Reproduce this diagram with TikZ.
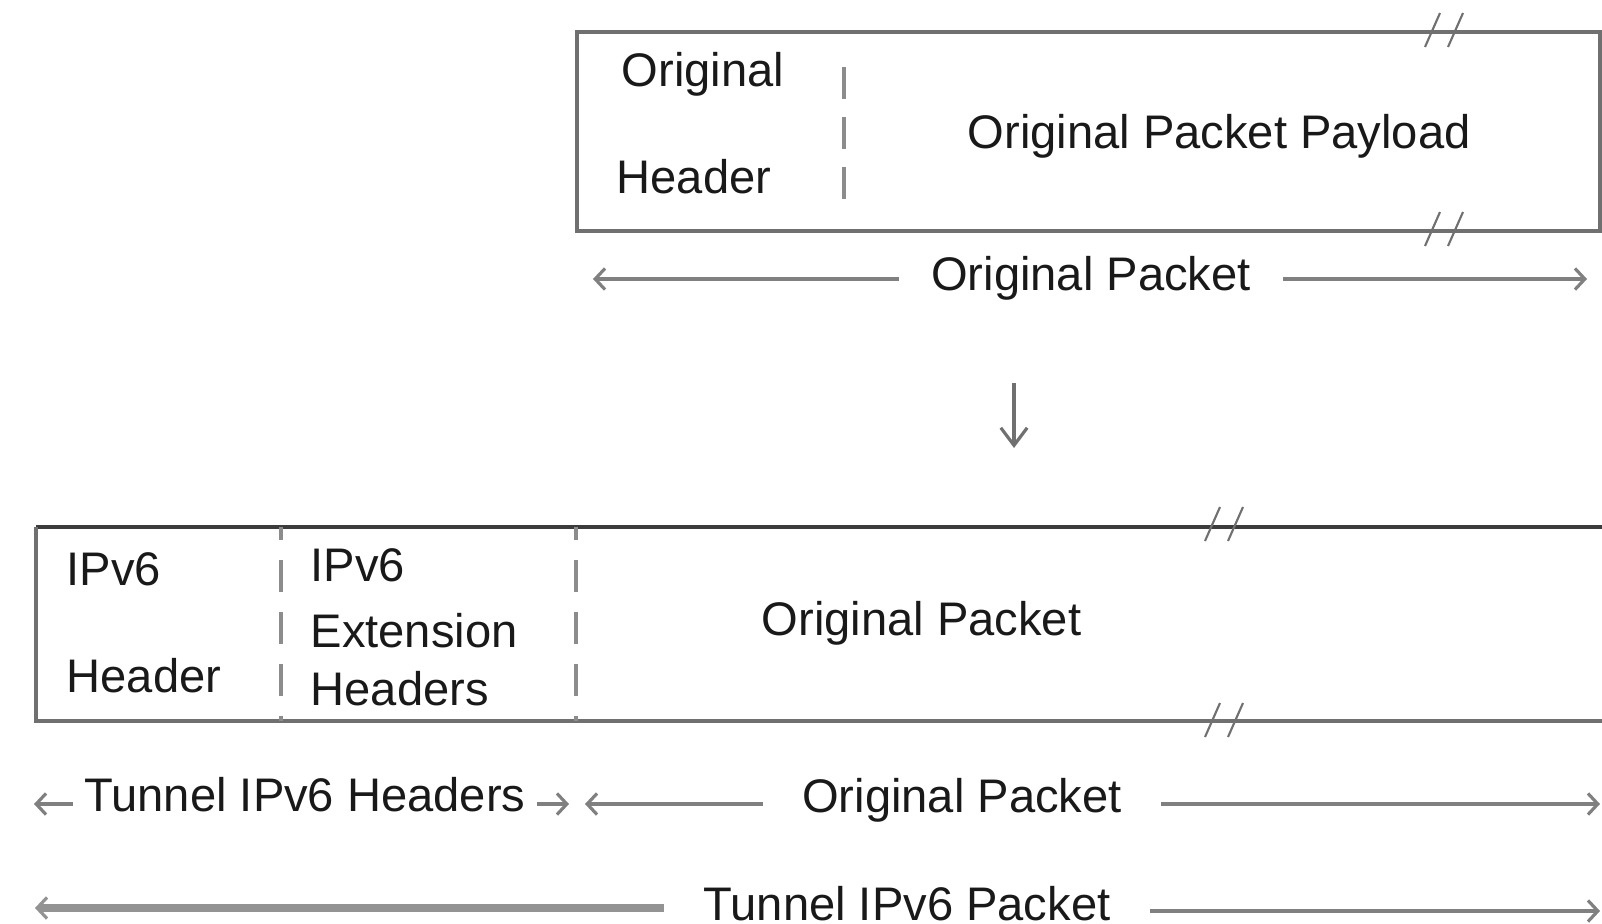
\documentclass[tikz,border=0pt]{standalone}
\usepackage{fontspec}
\setmainfont{Liberation Sans}
\usetikzlibrary{arrows.meta,positioning,calc}
\definecolor{framegray}{RGB}{112,112,112}
\definecolor{topdark}{RGB}{60,60,60}
\definecolor{dashgray}{RGB}{140,140,140}
\definecolor{arrowgray}{RGB}{128,128,128}
\definecolor{inkblack}{RGB}{25,25,25}

\begin{document}
\begin{tikzpicture}[
    x=0.01cm, y=-0.01cm,
    txt/.style={inner sep=0pt, anchor=base west, font=\fontsize{13.4pt}{16pt}\selectfont, text=inkblack},
    dimlabel/.style={inner ysep=0pt, inner xsep=#1, anchor=base, font=\fontsize{13.4pt}{16pt}\selectfont, text=inkblack},
    frame/.style={draw=framegray, line width=0.9pt},
    divider/.style={draw=dashgray, line width=0.9pt},
    dimarrow/.style={-{Straight Barb[length=2.8pt,width=6pt,line width=0.9pt]}, draw=arrowgray, line width=0.9pt},
    brk/.style={draw=framegray, line width=0.6pt},
]
    \useasboundingbox (0,0) rectangle (1602,924);
    \fill[white] (0,0) rectangle (1602,924);

    % Original packet
    \draw[frame] (577,32) rectangle (1600,231);
    \draw[divider, dash pattern=on 9.1pt off 5.1pt] (844,67) -- (844,199);
    \node[txt] (origtop) at (621,86) {Original};
    \node[txt] (orighdr) at (616,193) {Header};
    \node[txt] (payload) at (967,148) {Original Packet Payload};
    \node[dimlabel=9pt] (oplen) at (1091,290) {Original Packet};
    \coordinate (opL) at (593,279);
    \coordinate (opR) at (1587,279);
    \draw[dimarrow] (oplen.west |- opL) -- (opL);
    \draw[dimarrow] (oplen.east |- opR) -- (opR);

    % Encapsulation
    \coordinate (enctop) at (1014,383);
    \coordinate (encbot) at (1014,448);
    \draw[-{Straight Barb[length=5pt,width=7.5pt]}, draw=framegray, line width=0.9pt] (enctop) -- (encbot);

    % Tunnel IPv6 packet
    \draw[frame, draw=topdark, line width=1.1pt] (1602,527) -- (36,527);
    \draw[frame] (36,527) -- (36,721) -- (1602,721);
    \draw[divider, dash pattern=on 9.1pt off 5.7pt, dash phase=5.4pt] (281,527) -- (281,721);
    \draw[divider, dash pattern=on 9.1pt off 5.7pt, dash phase=5.4pt] (576,527) -- (576,721);
    \node[txt] (tunipv6) at (66,585) {IPv6};
    \node[txt] (tunhdr) at (66,692) {Header};
    \node[txt] (extipv6) at (310,581) {IPv6};
    \node[txt] (extext) at (310,647) {Extension};
    \node[txt] (exthdrs) at (310,705) {Headers};
    \node[txt] (inner) at (761,635) {Original Packet};

    % Break marks
    \foreach \bx/\by in {1445/30, 1445/229, 1225/524, 1225/720}
        \draw[brk] (\bx-20,\by+17) -- (\bx-5,\by-17) (\bx+3,\by+17) -- (\bx+18,\by-17);

    % Lengths
    \node[dimlabel=3pt] (hdrlen) at (305,811) {Tunnel IPv6 Headers};
    \coordinate (hlL) at (34,804);
    \coordinate (hlR) at (569,804);
    \draw[dimarrow] (hdrlen.west |- hlL) -- (hlL);
    \draw[dimarrow] (hdrlen.east |- hlR) -- (hlR);

    \node[dimlabel=11pt] (paylen) at (962,812) {Original Packet};
    \coordinate (plL) at (585,804);
    \coordinate (plR) at (1600,804);
    \draw[dimarrow] (paylen.west |- plL) -- (plL);
    \draw[dimarrow] (paylen.east |- plR) -- (plR);

    \node[dimlabel=11pt] (totlen) at (907,920) {Tunnel IPv6 Packet};
    \coordinate (tlL) at (35,908);
    \coordinate (tlR) at (1600,911);
    \draw[dimarrow, line width=2.4pt, draw=arrowgray!85] (totlen.west |- tlL) -- (tlL);
    \draw[dimarrow, line width=1.1pt] (totlen.east |- tlR) -- (tlR);
\end{tikzpicture}
\end{document}
